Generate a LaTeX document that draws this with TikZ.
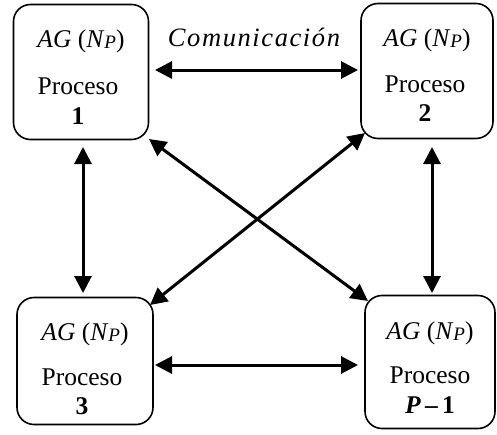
\documentclass[tikz,border=0pt]{standalone}
\usepackage{fontspec}
\setmainfont{Liberation Serif}
\usetikzlibrary{arrows.meta}
\newcommand{\agnp}{\textit{AG} (\textit{N}\raisebox{-1.5pt}{\fontsize{19}{19}\selectfont\textit{P}})}
\tikzset{
  box/.style={draw, line width=1.6pt, rounded corners=17pt, inner sep=0pt},
  arr/.style={line width=3pt, {Triangle[length=17pt,width=17pt]}-{Triangle[length=17pt,width=17pt]}},
  txt/.style={anchor=base, inner sep=0pt, font=\fontsize{25.5}{25.5}\selectfont}
}
\begin{document}
\begin{tikzpicture}[x=1pt,y=-1pt]
\useasboundingbox (0,0) rectangle (497,434);
% boxes
\node[box, minimum width=135pt, minimum height=135pt] (b1) at (81,72) {};
\node[box, minimum width=132pt, minimum height=135pt] (b2) at (427,71) {};
\node[box, minimum width=136pt, minimum height=127pt] (b3) at (85,361) {};
\node[box, minimum width=130pt, minimum height=133pt] (b4) at (430,362) {};
% texts
\node[txt] (t1a) at (81,47) {\agnp};
\node[txt] (t1b) at (78,94) {Proceso};
\node[txt] (t1c) at (78,124) {\textbf{1}};
\node[txt] (t2a) at (427,46) {\agnp};
\node[txt] (t2b) at (425,92) {Proceso};
\node[txt] (t2c) at (425,121) {\textbf{2}};
\node[txt] (t3a) at (85,340) {\agnp};
\node[txt] (t3b) at (82,385) {Proceso};
\node[txt] (t3c) at (82,414) {\textbf{3}};
\node[txt] (t4a) at (430,339) {\agnp};
\node[txt] (t4b) at (430,383) {Proceso};
\node[txt] (t4c) at (430,413) {\textbf{\textit{P}\,–\,1}};
\node[txt, font=\fontsize{26.5}{26.5}\selectfont\itshape\addfontfeature{LetterSpace=6}] (com) at (254,46) {Comunicación};
% connectors
\coordinate (h1a) at (155,70); \coordinate (h1b) at (358,70);
\draw[arr] (h1a) -- (h1b);
\coordinate (h2a) at (155,365); \coordinate (h2b) at (358,365);
\draw[arr] (h2a) -- (h2b);
\coordinate (v1a) at (83,147); \coordinate (v1b) at (83,293);
\draw[arr] (v1a) -- (v1b);
\coordinate (v2a) at (432,147); \coordinate (v2b) at (432,293);
\draw[arr] (v2a) -- (v2b);
\coordinate (d1a) at (149,139); \coordinate (d1b) at (368,301);
\draw[arr] (d1a) -- (d1b);
\coordinate (d2a) at (365,133); \coordinate (d2b) at (150,305);
\draw[arr] (d2a) -- (d2b);
\end{tikzpicture}
\end{document}
